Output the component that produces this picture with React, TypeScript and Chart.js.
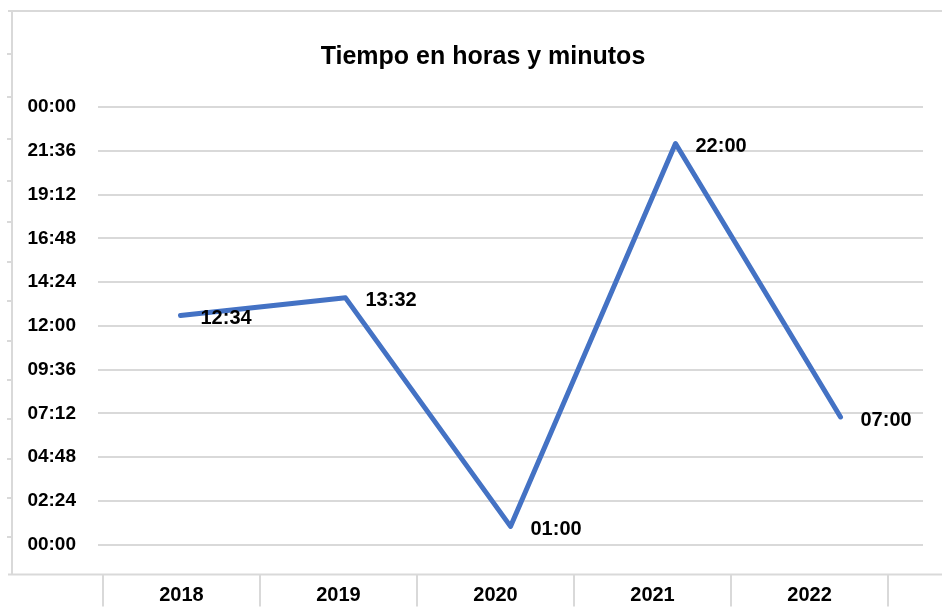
import React, { useEffect, useRef } from "react";
import { Chart, registerables } from "chart.js";

Chart.register(...registerables);

// ---- data ----
const years = ["2018", "2019", "2020", "2021", "2022"];
// time of day in minutes (12:34, 13:32, 01:00, 22:00, 07:00)
const minutesValues = [754, 812, 60, 1320, 420];
// y axis ticks every 2h24 (144 min), from 00:00 to 24:00
const yTickMinutes = [0, 144, 288, 432, 576, 720, 864, 1008, 1152, 1296, 1440];
const titleText = "Tiempo en horas y minutos";

const FONT = '"Liberation Sans", Arial, sans-serif';
const GRID = "#d9d9d9";
const LINE = "#4472C4";

// decorative outer frame tick marks (left border of the sheet frame)
const frameTickYs = [54, 97, 139, 181, 222, 262, 301, 341, 380, 419, 459, 498, 537];

function fmt(m: number): string {
  const h = Math.floor(m / 60) % 24;
  const mm = Math.round(m % 60);
  return String(h).padStart(2, "0") + ":" + String(mm).padStart(2, "0");
}

const framePlugin = {
  id: "frame",
  beforeDraw(chart: any) {
    const ctx = chart.ctx;
    const bottom = chart.chartArea.bottom;
    ctx.save();
    ctx.strokeStyle = GRID;
    ctx.lineWidth = 2;
    ctx.beginPath();
    ctx.moveTo(8, 11);
    ctx.lineTo(chart.width, 11);
    ctx.moveTo(12, 10);
    ctx.lineTo(12, bottom + 1);
    ctx.moveTo(8, bottom + 1);
    ctx.lineTo(chart.width, bottom + 1);
    frameTickYs.forEach((y) => {
      ctx.moveTo(7, y);
      ctx.lineTo(12, y);
    });
    ctx.stroke();
    ctx.restore();
  },
};

const labelPlugin = {
  id: "pointLabels",
  afterDatasetsDraw(chart: any) {
    const ctx = chart.ctx;
    const meta = chart.getDatasetMeta(0);
    const data = chart.data.datasets[0].data as number[];
    ctx.save();
    ctx.font = `bold 20px ${FONT}`;
    ctx.fillStyle = "#000";
    ctx.textAlign = "left";
    ctx.textBaseline = "middle";
    meta.data.forEach((pt: any, i: number) => {
      ctx.fillText(fmt(data[i]), pt.x + 20, pt.y + 3);
    });
    ctx.restore();
  },
};

export default function App() {
  const ref = useRef<HTMLCanvasElement | null>(null);

  useEffect(() => {
    if (!ref.current) return;
    const chart = new Chart(ref.current, {
      type: "line",
      data: {
        labels: years,
        datasets: [
          {
            data: minutesValues,
            borderColor: LINE,
            backgroundColor: LINE,
            borderWidth: 5,
            pointRadius: 0,
            pointHoverRadius: 0,
            tension: 0,
            borderCapStyle: "round",
            borderJoinStyle: "round",
            xAxisID: "x",
            yAxisID: "y",
          },
        ],
      },
      options: {
        responsive: false,
        animation: false,
        events: [],
        layout: { padding: { left: 24, right: 0, top: 0, bottom: 0 } },
        plugins: {
          legend: { display: false },
          tooltip: { enabled: false },
          title: {
            display: true,
            text: titleText,
            color: "#000",
            font: { family: FONT, size: 25, weight: "bold", lineHeight: 1.2 },
            padding: { top: 42, bottom: 35 },
          },
        },
        scales: {
          x: {
            type: "category",
            offset: true,
            display: false,
          },
          x2: {
            type: "linear",
            position: "bottom",
            min: -0.5318,
            max: 4.7229,
            afterBuildTicks: (s: any) => {
              s.ticks = years.map((_, i) => ({ value: i }));
            },
            afterFit: (s: any) => {
              s.height = 33;
            },
            border: { display: false },
            grid: {
              offset: true,
              drawOnChartArea: false,
              drawTicks: true,
              tickLength: 33,
              color: GRID,
              lineWidth: 2,
            },
            ticks: {
              padding: -23,
              maxRotation: 0,
              autoSkip: false,
              color: "#000",
              font: { family: FONT, size: 20, weight: "bold" },
              callback: (v: any) => years[Math.round(Number(v))] ?? "",
            },
          },
          y: {
            type: "linear",
            min: -95.3,
            max: 1440,
            afterBuildTicks: (s: any) => {
              s.ticks = yTickMinutes.map((v) => ({ value: v }));
            },
            afterFit: (s: any) => {
              s.width = 74;
            },
            border: { display: false },
            grid: { color: GRID, lineWidth: 2, drawTicks: false },
            ticks: {
              padding: 22,
              color: "#000",
              font: { family: FONT, size: 19, weight: "bold" },
              callback: (v: any) => fmt(Number(v)),
            },
          },
          yRight: {
            type: "linear",
            position: "right",
            display: true,
            afterFit: (s: any) => {
              s.width = 19;
            },
            border: { display: false },
            grid: { drawOnChartArea: false, drawTicks: false },
            ticks: { display: false },
          },
        },
      },
      plugins: [framePlugin, labelPlugin],
    });
    return () => chart.destroy();
  }, []);

  return (
    <div style={{ position: "absolute", left: 0, top: 0, width: 942, height: 607, background: "#fff" }}>
      <canvas ref={ref} width={942} height={607} style={{ display: "block", width: 942, height: 607 }} />
    </div>
  );
}
